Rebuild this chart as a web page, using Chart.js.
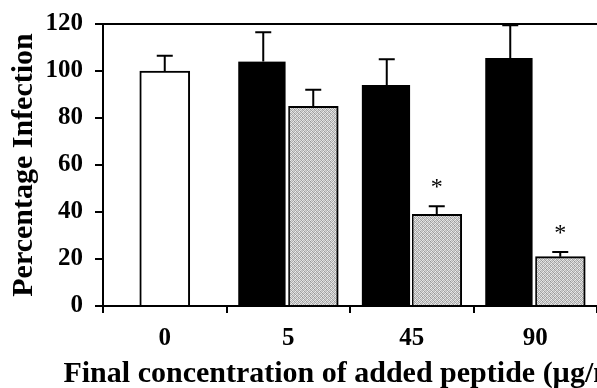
<!DOCTYPE html>
<html>
<head>
<meta charset="utf-8">
<script src="https://cdn.jsdelivr.net/npm/chart.js@4"></script>
<style>
    body { margin: 0; background: #fff; }
    canvas { display: block; }
</style>
</head>
<body>
<canvas id="infectionChart" width="597" height="388"></canvas>
<script>
const concentrations = ['0', '5', '45', '90'];
const controlMeans = [100, 104, 94, 105.5];
const controlErrors = [6.5, 12.5, 11, 14];
const peptideMeans = [null, 85, 39, 21];
const peptideErrors = [null, 7, 3.5, 2];
const peptideMarks = ['', '', '*', '*'];
const yMin = 0;
const yMax = 120;
const yStep = 20;
const yTitle = 'Percentage Infection';
const xTitle = 'Final concentration of added peptide (\u00b5g/ml)';

const serif = '"Liberation Serif", "Times New Roman", serif';

// dotted grey fill like the printed halftone
function makeStipple() {
    const levels = [
        [215, 160, 230, 185],
        [175, 235, 150, 220],
        [225, 190, 205, 165],
        [160, 210, 180, 240]
    ];
    const c = document.createElement('canvas');
    c.width = 4;
    c.height = 4;
    const g = c.getContext('2d');
    levels.forEach((row, y) => {
        row.forEach((v, x) => {
            g.fillStyle = `rgb(${v},${v},${v})`;
            g.fillRect(x, y, 1, 1);
        });
    });
    return g.createPattern(c, 'repeat');
}

const errorBars = {
    id: 'errorBars',
    afterDatasetsDraw(chart) {
        const ctx = chart.ctx;
        const yScale = chart.scales.y;
        const sets = [
            [controlMeans, controlErrors, null],
            [peptideMeans, peptideErrors, peptideMarks]
        ];
        ctx.save();
        ctx.strokeStyle = '#000';
        ctx.fillStyle = '#000';
        ctx.lineWidth = 2;
        sets.forEach(([means, errs, marks], i) => {
            chart.getDatasetMeta(i).data.forEach((bar, j) => {
                if (means[j] == null) return;
                const top = yScale.getPixelForValue(means[j] + errs[j]);
                ctx.beginPath();
                ctx.moveTo(bar.x, bar.y);
                ctx.lineTo(bar.x, top);
                ctx.moveTo(bar.x - 8, top);
                ctx.lineTo(bar.x + 8, top);
                ctx.stroke();
                if (marks && marks[j]) {
                    ctx.font = `24px ${serif}`;
                    ctx.textAlign = 'center';
                    ctx.textBaseline = 'alphabetic';
                    ctx.fillText(marks[j], bar.x, top - 12);
                }
            });
        });
        ctx.restore();
    }
};

// x title is wider than the plot, so draw it without the scale's maxWidth squeeze
const xAxisTitle = {
    id: 'xAxisTitle',
    afterDraw(chart) {
        const ctx = chart.ctx;
        const area = chart.chartArea;
        ctx.save();
        ctx.font = `bold 30px ${serif}`;
        ctx.fillStyle = '#000';
        ctx.textAlign = 'center';
        ctx.textBaseline = 'alphabetic';
        ctx.fillText(xTitle, (area.left + area.right) / 2, 382);
        ctx.restore();
    }
};

const stipple = makeStipple();

new Chart(document.getElementById('infectionChart'), {
    type: 'bar',
    data: {
        labels: concentrations,
        datasets: [{
            label: 'Control',
            data: controlMeans,
            backgroundColor: ['#fff', '#000', '#000', '#000'],
            borderColor: ['#000', '#fff', '#fff', '#fff'],
            borderWidth: [
                { top: 2, left: 2, right: 2, bottom: 0 },
                { top: 0, left: 0, right: 3, bottom: 0 },
                { top: 0, left: 0, right: 2, bottom: 0 },
                { top: 0, left: 0, right: 3, bottom: 0 }
            ],
            barThickness: 50,
            skipNull: true
        }, {
            label: 'Peptide',
            data: peptideMeans,
            backgroundColor: stipple,
            borderColor: '#000',
            borderWidth: { top: 2, left: 2, right: 2, bottom: 0 },
            barThickness: 50,
            skipNull: true
        }]
    },
    options: {
        responsive: false,
        animation: false,
        layout: {
            padding: { top: 24, right: 0, bottom: 0, left: 0 }
        },
        plugins: {
            legend: { display: false },
            tooltip: { enabled: false }
        },
        scales: {
            x: {
                afterFit(scale) {
                    scale.height = 82;
                    scale.paddingLeft = 0;
                    scale.paddingRight = 0;
                },
                grid: {
                    drawOnChartArea: false,
                    color: '#000',
                    lineWidth: 2,
                    tickLength: 7
                },
                border: { color: '#000', width: 2 },
                ticks: {
                    color: '#000',
                    padding: 11,
                    font: { family: serif, size: 25, weight: 'bold' }
                }
            },
            y: {
                min: yMin,
                max: yMax,
                afterFit(scale) {
                    scale.width = 103;
                    scale.paddingTop = 0;
                    scale.paddingBottom = 0;
                },
                grid: {
                    color: (c) => c.tick && c.tick.value === yMax ? '#000' : 'rgba(0,0,0,0)',
                    tickColor: '#000',
                    lineWidth: 2,
                    tickLength: 8
                },
                border: { color: '#000', width: 2 },
                ticks: {
                    stepSize: yStep,
                    color: '#000',
                    padding: 12,
                    font: { family: serif, size: 25, weight: 'bold' }
                },
                title: {
                    display: true,
                    text: yTitle,
                    color: '#000',
                    padding: { top: 9, bottom: 0 },
                    font: { family: serif, size: 30, weight: 'bold', lineHeight: 1 }
                }
            }
        }
    },
    plugins: [errorBars, xAxisTitle]
});
</script>
</body>
</html>
